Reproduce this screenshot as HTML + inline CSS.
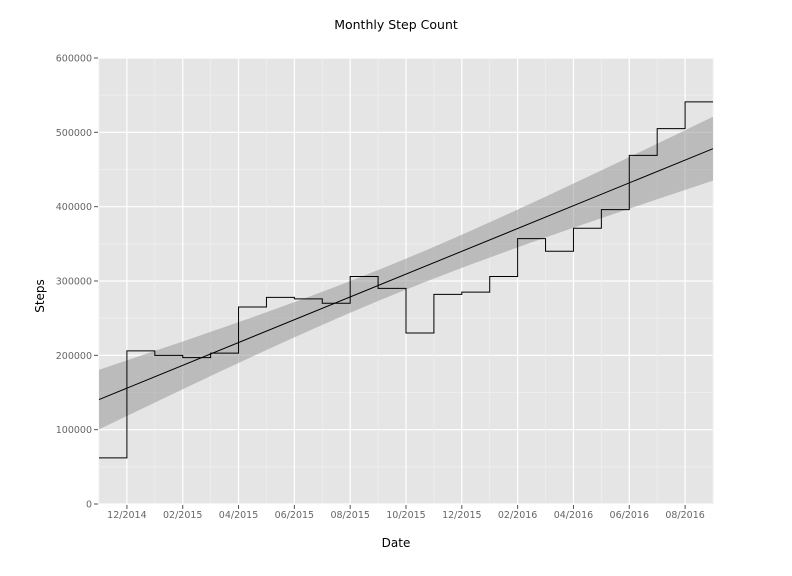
<!DOCTYPE html>
<html><head><meta charset="utf-8"><style>
body{margin:0;background:#fff;}
svg{display:block;font-family:"DejaVu Sans","Liberation Sans",sans-serif;}
</style></head><body>
<svg id="chart" width="792" height="576">
<rect x="99" y="58" width="614" height="446" fill="#e5e5e5"/>
<g id="grid"></g><g id="band"></g><g id="marks"></g><g id="axes"></g>
<text x="396" y="29" text-anchor="middle" font-size="12.5" fill="#000">Monthly Step Count</text>
<text x="396" y="547" text-anchor="middle" font-size="12" fill="#000">Date</text>
<text x="44" y="296" text-anchor="middle" font-size="12" fill="#000" transform="rotate(-90 44 296)">Steps</text>
</svg>
<script>
const months = ["2014-11","2014-12","2015-01","2015-02","2015-03","2015-04","2015-05","2015-06","2015-07","2015-08","2015-09","2015-10","2015-11","2015-12","2016-01","2016-02","2016-03","2016-04","2016-05","2016-06","2016-07","2016-08"];
const steps = [62000,206000,200000,197000,203000,265000,278000,276000,270000,306000,290000,230000,282000,285000,306000,357000,340000,371000,396000,469000,505000,541000];
const yTicks = [0,100000,200000,300000,400000,500000,600000];
const xTickLabels = ["12/2014","02/2015","04/2015","06/2015","08/2015","10/2015","12/2015","02/2016","04/2016","06/2016","08/2016"];

const NS="http://www.w3.org/2000/svg";
const X0=99,X1=713,Y0=504,Y1=58;
function mIdx(s){const p=s.split(/[-\/]/);return s.includes('/')?(+p[1]-2014)*12+(+p[0]-11):(+p[0]-2014)*12+(+p[1]-11);}
const nMonths=months.length+1;
function xs(i){return X0+(X1-X0)*i/(nMonths-1);}
function ys(v){return Y0-(Y0-Y1)*v/600000;}
function mk(tag,attrs,parent){const e=document.createElementNS(NS,tag);for(const k in attrs)e.setAttribute(k,attrs[k]);document.getElementById(parent).appendChild(e);return e;}

// grid
for(let v=0;v<=600000;v+=50000){
  const major=v%100000===0;
  const l=mk('line',{x1:X0,x2:X1,y1:ys(v),y2:ys(v),stroke:major?'#fff':'#efefef','stroke-width':major?1.2:0.8},'grid');
  
  
}
for(let i=0;i<nMonths;i++){
  const major=i%2===1;
  const l=mk('line',{x1:xs(i),x2:xs(i),y1:Y1,y2:Y0,stroke:major?'#fff':'#efefef','stroke-width':major?1.2:0.8},'grid');
  
  
}
// regression
const n=steps.length;
const xi=steps.map((_,i)=>i);
const xm=xi.reduce((a,b)=>a+b)/n, ym=steps.reduce((a,b)=>a+b)/n;
let sxx=0,sxy=0;xi.forEach((x,i)=>{sxx+=(x-xm)**2;sxy+=(x-xm)*(steps[i]-ym);});
const b=sxy/sxx,a=ym-b*xm;
let sse=0;xi.forEach((x,i)=>{sse+=(steps[i]-a-b*x)**2;});
const s=Math.sqrt(sse/(n-2)),t=2.086;
const xEnd=nMonths-1;
let up=[],lo=[];
for(let k=0;k<=40;k++){const x=xEnd*k/40;const f=a+b*x;const h=t*s*Math.sqrt(1/n+(x-xm)**2/sxx);
  up.push(xs(x)+','+ys(f+h));lo.unshift(xs(x)+','+ys(f-h));}
const band=mk('polygon',{points:up.concat(lo).join(' '),fill:'#999','fill-opacity':0.55},'band');


const fit=mk('line',{x1:xs(0),y1:ys(a),x2:xs(xEnd),y2:ys(a+b*xEnd),stroke:'#000','stroke-width':1},'marks');


// step line
let d='';
steps.forEach((v,i)=>{const m=mIdx(months[i]);d+=(i===0?'M':'L')+xs(m)+','+ys(v)+' L'+xs(m+1)+','+ys(v)+' ';});
const sp=mk('path',{d:d,fill:'none',stroke:'#000','stroke-width':1},'marks');


// axes
yTicks.forEach(v=>{
  const tk=mk('line',{x1:X0-5,x2:X0-1,y1:ys(v),y2:ys(v),stroke:'#555'},'axes');
  
  
  const tx=mk('text',{x:X0-7,y:ys(v)+3.5,'text-anchor':'end','font-size':9.5,fill:'#666'},'axes');
  tx.textContent=v;
  
  
});
xTickLabels.forEach(lbl=>{
  const i=mIdx(lbl);
  const tk=mk('line',{x1:xs(i),x2:xs(i),y1:Y0+1,y2:Y0+5,stroke:'#555'},'axes');
  
  
  const tx=mk('text',{x:xs(i),y:Y0+14,'text-anchor':'middle','font-size':9.5,fill:'#666'},'axes');
  tx.textContent=lbl;
  
  
});
</script>
</body></html>
